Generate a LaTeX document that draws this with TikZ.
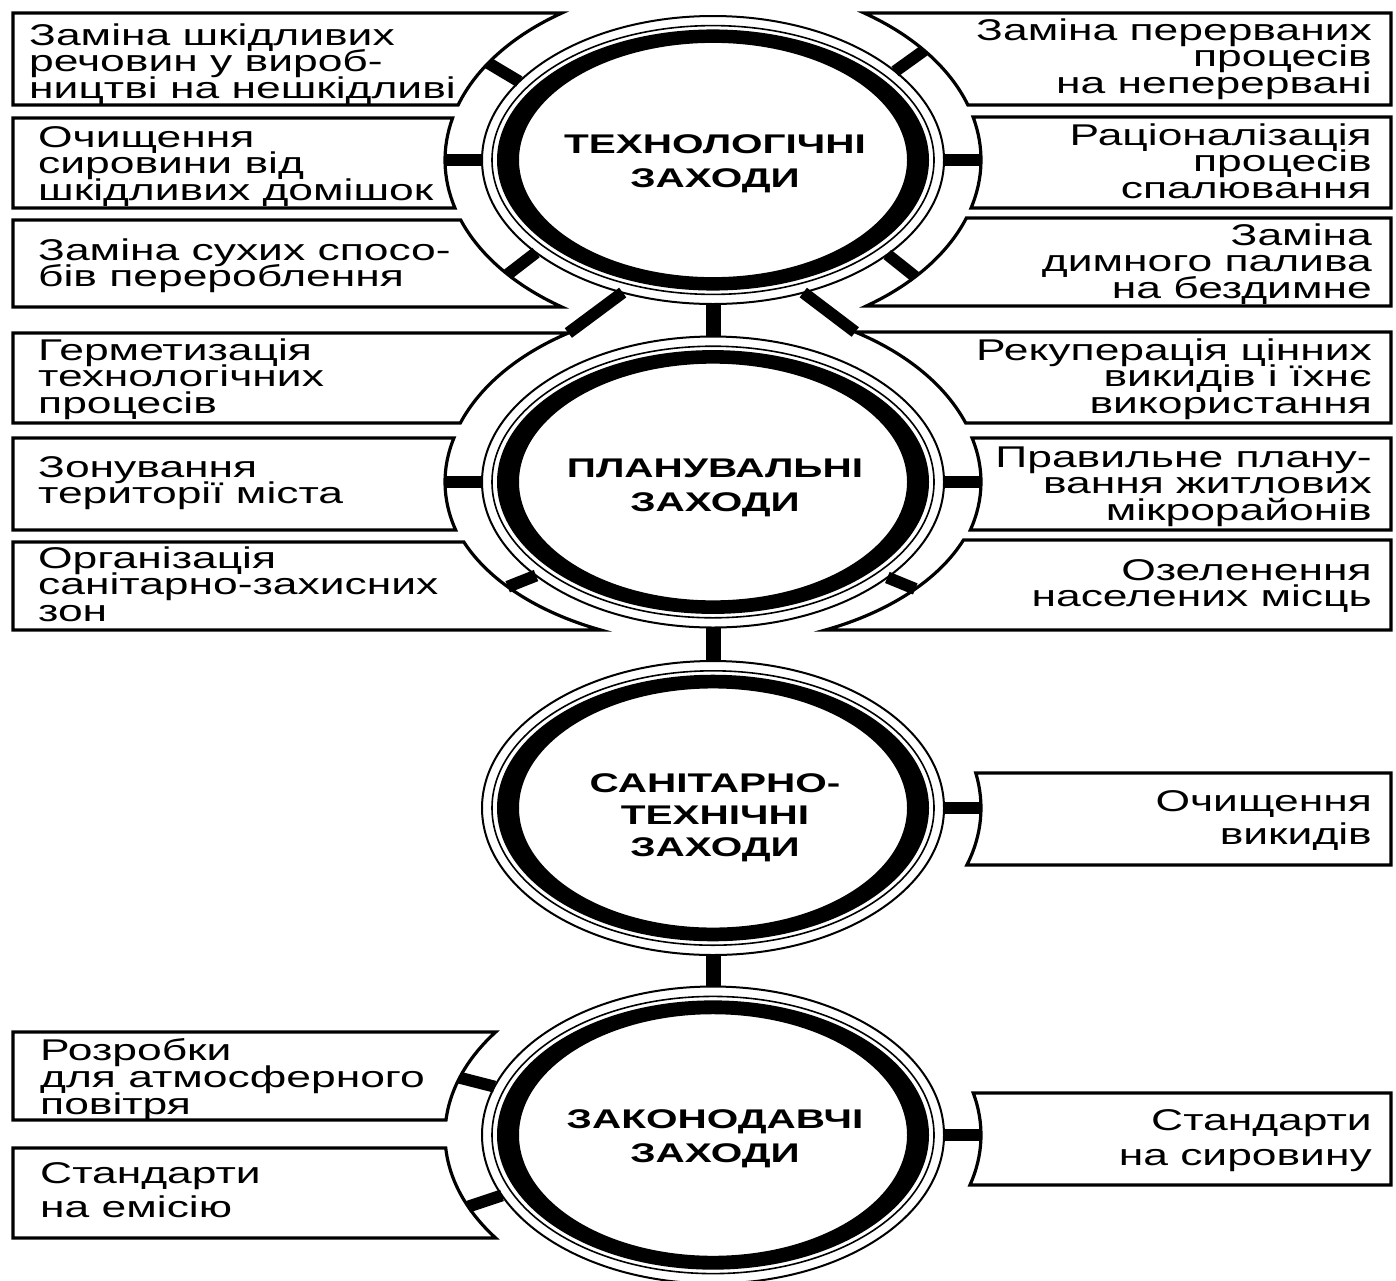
\documentclass[tikz,border=0pt]{standalone}
\usepackage{fontspec}
\newfontfamily\boxfont[FakeStretch=1.48]{Liberation Sans}
\newfontfamily\circfont[FakeStretch=1.5]{Liberation Sans Bold}
\newcommand\mystrut{\rule{0pt}{28pt}}
\newcommand\bxf[1]{\boxfont\fontsize{30}{#1}\selectfont}
\newcommand\cxf[1]{\circfont\fontsize{27}{#1}\selectfont}
\lineskiplimit=-100pt
\lineskip=0pt
% box with arc on the right side (left column)
\newcommand\mkleft[4]{% #1 cy, #2 ry of big arc, #3 top, #4 bottom
  \pgfmathsetmacro\ta{180-asin((#3-#1)/#2)}%
  \pgfmathsetmacro\tb{180-asin((#4-#1)/#2)}%
  \draw[boxline] (13,#3) -- ({713+268*cos(\ta)},#3)
     arc[start angle=\ta, end angle=\tb, x radius=268, y radius=#2] -- (13,#4) -- cycle;}
\newcommand\mkright[4]{%
  \pgfmathsetmacro\ta{asin((#3-#1)/#2)}%
  \pgfmathsetmacro\tb{asin((#4-#1)/#2)}%
  \draw[boxline] (1391,#3) -- ({713+268*cos(\ta)},#3)
     arc[start angle=\ta, end angle=\tb, x radius=268, y radius=#2] -- (1391,#4) -- cycle;}
% gear: name, cy, yscale
\newcommand\gear[3]{%
  \begin{scope}[shift={(713,#2)}, yscale=#3]
    \fill[even odd rule] (0,0) ellipse[x radius=216, y radius=136]
                         (0,0) ellipse[x radius=194, y radius=122];
    \draw[line width=1.6pt] (0,0) ellipse[x radius=221, y radius=140];
    \draw[line width=2pt] (0,0) ellipse[x radius=231, y radius=150];
  \end{scope}
  \coordinate (#1) at (713,#2);}
% spoke: cy, ry thin ring (effective), ry big arc, angle
\newcommand\spk[4]{%
  \draw[spoke] ({713+231*cos(#4)},{#1+#2*sin(#4)}) -- ({713+268*cos(#4)},{#1+#3*sin(#4)});}
\begin{document}
\begin{tikzpicture}[x=1pt,y=-1pt,
  boxline/.style={line width=3.2pt, line join=miter},
  spoke/.style={line width=12pt},
  link/.style={line width=15pt},
  ltext/.style={anchor=north west, inner sep=0pt, align=left, font=\bxf{26.5}},
  rtext/.style={anchor=north east, inner sep=0pt, align=right, font=\bxf{26.5}},
  ctext/.style={anchor=north, inner sep=0pt, align=center, font=\cxf{34}}]
\fill[white] (0,0) rectangle (1396,1280);
\useasboundingbox (0,0) rectangle (1396,1280);

% ---------- circle 1 ----------
\gear{g1}{160}{0.96}
\mkleft{160}{178}{13}{105}
\mkleft{160}{178}{118}{208}
\mkleft{160}{178}{220}{307}
\mkright{160}{178}{13}{105}
\mkright{160}{178}{117}{208}
\mkright{160}{178}{218}{306}
\spk{160}{144}{178}{213}
\spk{160}{144}{178}{180}
\spk{160}{144}{178}{140}
\spk{160}{144}{178}{322}
\spk{160}{144}{178}{0}
\spk{160}{144}{178}{41}
\node[ltext] (t11) at (29,17) {\mystrut Заміна шкідливих\\речовин у вироб-\\ництві на нешкідливі};
\node[ltext] (t12) at (38,119) {\mystrut Очищення\\сировини від\\шкідливих домішок};
\node[ltext] (t13) at (38,232) {\mystrut Заміна сухих спосо-\\бів перероблення};
\node[rtext] (t14) at (1372,12) {\mystrut Заміна перерваних\\процесів\\на неперервані};
\node[rtext] (t15) at (1372,117) {\mystrut Раціоналізація\\процесів\\спалювання};
\node[rtext] (t16) at (1372,217) {\mystrut Заміна\\димного палива\\на бездимне};
\node[ctext] (c1) at (715,125) {\mystrut ТЕХНОЛОГІЧНІ\\ЗАХОДИ};

% ---------- circle 2 ----------
\gear{g2}{482}{0.97}
\mkleft{482}{177}{333}{423}
\mkleft{482}{172}{438}{530}
\mkleft{482}{163}{542}{630}
\mkright{482}{177}{332}{423}
\mkright{482}{172}{438}{530}
\mkright{482}{163}{540}{630}
\spk{482}{145.5}{172}{180}
\spk{482}{145.5}{163}{140}
\spk{482}{145.5}{172}{0}
\spk{482}{145.5}{163}{41}
\node[ltext] (t21) at (38,332) {\mystrut Герметизація\\технологічних\\процесів};
\node[ltext] (t22) at (38,449) {\mystrut Зонування\\території міста};
\node[ltext] (t23) at (38,540) {\mystrut Організація\\санітарно-захисних\\зон};
\node[rtext] (t24) at (1372,332) {\mystrut Рекуперація цінних\\викидів і їхнє\\використання};
\node[rtext] (t25) at (1372,439) {\mystrut Правильне плану-\\вання житлових\\мікрорайонів};
\node[rtext] (t26) at (1372,552) {\mystrut Озеленення\\населених місць};
\node[ctext] (c2) at (715,449) {\mystrut ПЛАНУВАЛЬНІ\\ЗАХОДИ};

% diagonal links from circle 1 to the top boxes of circle 2
\coordinate (d1a) at ({713+231*cos(113)},{160+144*sin(113)});
\coordinate (d1b) at ({713-268*cos(asin(149/177))},333);
\coordinate (d2a) at ({713+231*cos(67)},{160+144*sin(67)});
\coordinate (d2b) at ({713+268*cos(asin(150/177))},332);
\draw[spoke] (d1a) -- (d1b);
\draw[spoke] (d2a) -- (d2b);

% ---------- circle 3 ----------
\gear{g3}{808}{0.98}
\mkright{808}{178}{773}{865}
\spk{808}{147}{178}{0}
\node[rtext, font=\bxf{33}] (t31) at (1372,783) {\mystrut Очищення\\викидів};
\node[ctext, font=\cxf{32}] (c3) at (715,764) {\mystrut САНІТАРНО-\\ТЕХНІЧНІ\\ЗАХОДИ};

% ---------- circle 4 ----------
\gear{g4}{1135}{0.99}
\mkleft{1135}{176}{1032}{1120}
\mkleft{1135}{176}{1148}{1238}
\mkright{1135}{176}{1093}{1185}
\spk{1135}{148.5}{176}{199}
\spk{1135}{148.5}{176}{156}
\spk{1135}{148.5}{176}{0}
\node[ltext, font=\bxf{27}] (t41) at (40,1032) {\mystrut Розробки\\для атмосферного\\повітря};
\node[ltext, font=\bxf{34}] (t42) at (40,1155) {\mystrut Стандарти\\на емісію};
\node[rtext, font=\bxf{35}] (t43) at (1372,1102) {\mystrut Стандарти\\на сировину};
\node[ctext] (c4) at (715,1100) {\mystrut ЗАКОНОДАВЧІ\\ЗАХОДИ};

% ---------- vertical links ----------
\coordinate (l1a) at (713,304);
\coordinate (l1b) at (713,337);
\coordinate (l2a) at (713,627);
\coordinate (l2b) at (713,661);
\coordinate (l3a) at (713,955);
\coordinate (l3b) at (713,987);
\draw[link] (l1a) -- (l1b);
\draw[link] (l2a) -- (l2b);
\draw[link] (l3a) -- (l3b);
\end{tikzpicture}
\end{document}
